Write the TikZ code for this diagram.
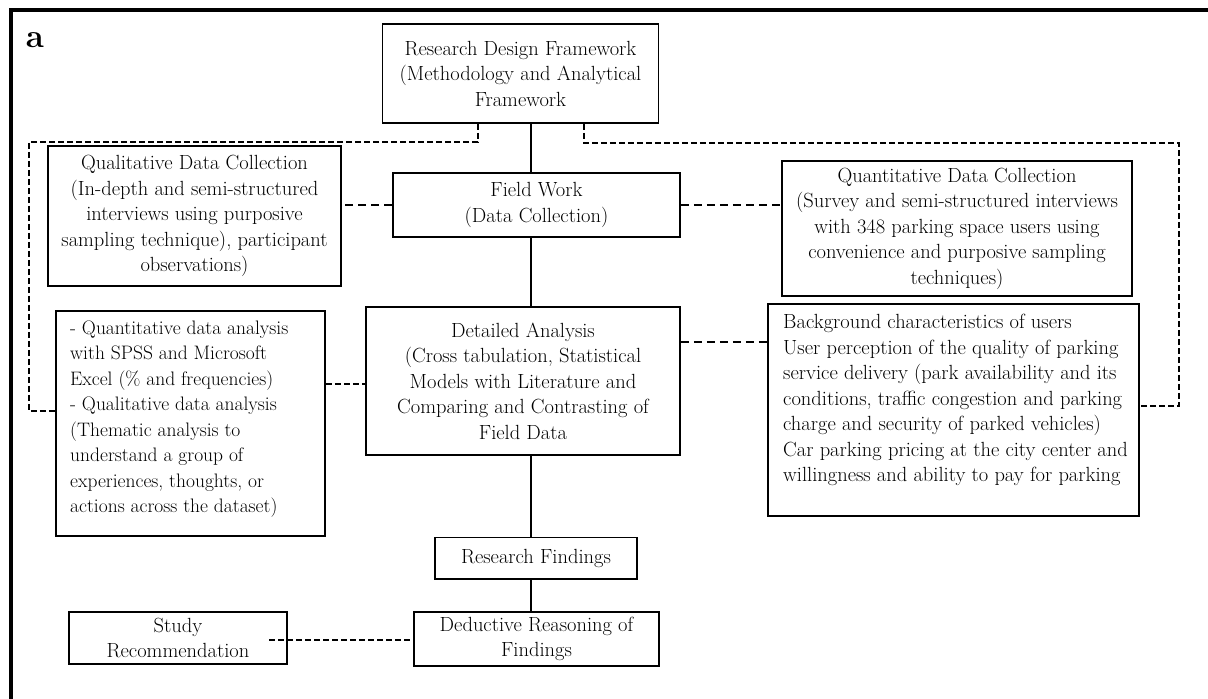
\documentclass[tikz,border=0pt]{standalone}
\usepackage{fontspec}
\begin{document}
\begin{tikzpicture}[x=1pt,y=-1pt,
  box/.style={draw,line width=1.6pt,inner sep=0pt,align=center,font=\fontsize{20.5}{25.5}\selectfont},
  txt/.style={inner sep=0pt,align=left,anchor=west,font=\fontsize{20.5}{25.5}\selectfont},
  link/.style={line width=1.6pt},
  dlink/.style={line width=1.6pt,dash pattern=on 6pt off 3pt},
  dlink2/.style={line width=1.6pt,dash pattern=on 8pt off 5pt}]
\useasboundingbox (0,0) rectangle (1208,699);
\fill[white] (0,0) rectangle (1208,699);
% outer frame
\draw[line width=3.5pt] (11,699) -- (11,10) -- (1208,10);
\node[font=\bfseries\fontsize{33}{33}\selectfont,inner sep=0pt] (lab) at (35,40) {a};

% boxes
\node[box,minimum width=276,minimum height=99] (rdf) at (520.5,73.5)
  {Research Design Framework\\(Methodology and Analytical\\Framework};
\node[box,minimum width=293,minimum height=140] (qual) at (194.5,216)
  {Qualitative Data Collection\\(In-depth and semi-structured\\interviews using purposive\\sampling technique), participant\\observations)};
\node[box,minimum width=287,minimum height=64] (fw) at (536.5,204.7)
  {Field Work\\(Data Collection)};
\node[box,minimum width=350,minimum height=135] (quant) at (957,228.5)
  {Quantitative Data Collection\\(Survey and semi-structured interviews\\with 348 parking space users using\\convenience and purposive sampling\\techniques)};
\node[box,minimum width=269,minimum height=225] (la) at (190.5,423.5) {};
\node[txt,font=\fontsize{19.5}{25.5}\selectfont] (lat) at (70,419)
  {- Quantitative data analysis\\with SPSS and Microsoft\\Excel (\% and frequencies)\\- Qualitative data analysis\\(Thematic analysis to\\understand a group of\\experiences, thoughts, or\\actions across the dataset)};
\node[box,minimum width=314,minimum height=148] (da) at (523,381)
  {Detailed Analysis\\(Cross tabulation, Statistical\\Models with Literature and\\Comparing and Contrasting of\\Field Data};
\node[box,minimum width=371,minimum height=212] (rb) at (953.5,410) {};
\node[txt] (rbt) at (783,400)
  {Background characteristics of users\\User perception of the quality of parking\\service delivery (park availability and its\\conditions, traffic congestion and parking\\charge and security of parked vehicles)\\Car parking pricing at the city center and\\willingness and ability to pay for parking};
\node[box,minimum width=202,minimum height=41.5] (rf) at (536,558.3)
  {Research Findings};
\node[box,minimum width=245,minimum height=54] (dr) at (536.5,639)
  {Deductive Reasoning of\\Findings};
\node[box,minimum width=218,minimum height=52.5] (sr) at (178,638)
  {Study\\Recommendation};

% coordinates
\coordinate (spine) at (531,0);
\coordinate (ldrop) at (478,142);
\coordinate (lleft) at (29,411);
\coordinate (rdrop) at (584,143);
\coordinate (rright) at (1179,406);
\coordinate (lay) at (0,384);
\coordinate (ry) at (0,342);
\coordinate (sx) at (269,640);

% solid spine
\draw[link] (rdf.south -| spine) -- (fw.north -| spine);
\draw[link] (fw.south -| spine) -- (da.north -| spine);
\draw[link] (da.south -| spine) -- (rf.north -| spine);
\draw[link] (rf.south -| spine) -- (dr.north -| spine);

% dashed loops
\draw[dlink] (rdf.south -| ldrop) -- (ldrop) -| (lleft) -- (la.west |- lleft);
\draw[dlink] (rdf.south -| rdrop) -- (rdrop) -| (rright) -- (rb.east |- rright);

% dashed side links
\draw[dlink2] (fw.west) -- (fw.west -| qual.east);
\draw[dlink2] (fw.east) -- (fw.east -| quant.west);
\draw[dlink] (la.east |- lay) -- (da.west |- lay);
\draw[dlink2] (da.east |- ry) -- (rb.west |- ry);
\draw[dlink] (sx) -- (dr.west |- sx);
\end{tikzpicture}
\end{document}
